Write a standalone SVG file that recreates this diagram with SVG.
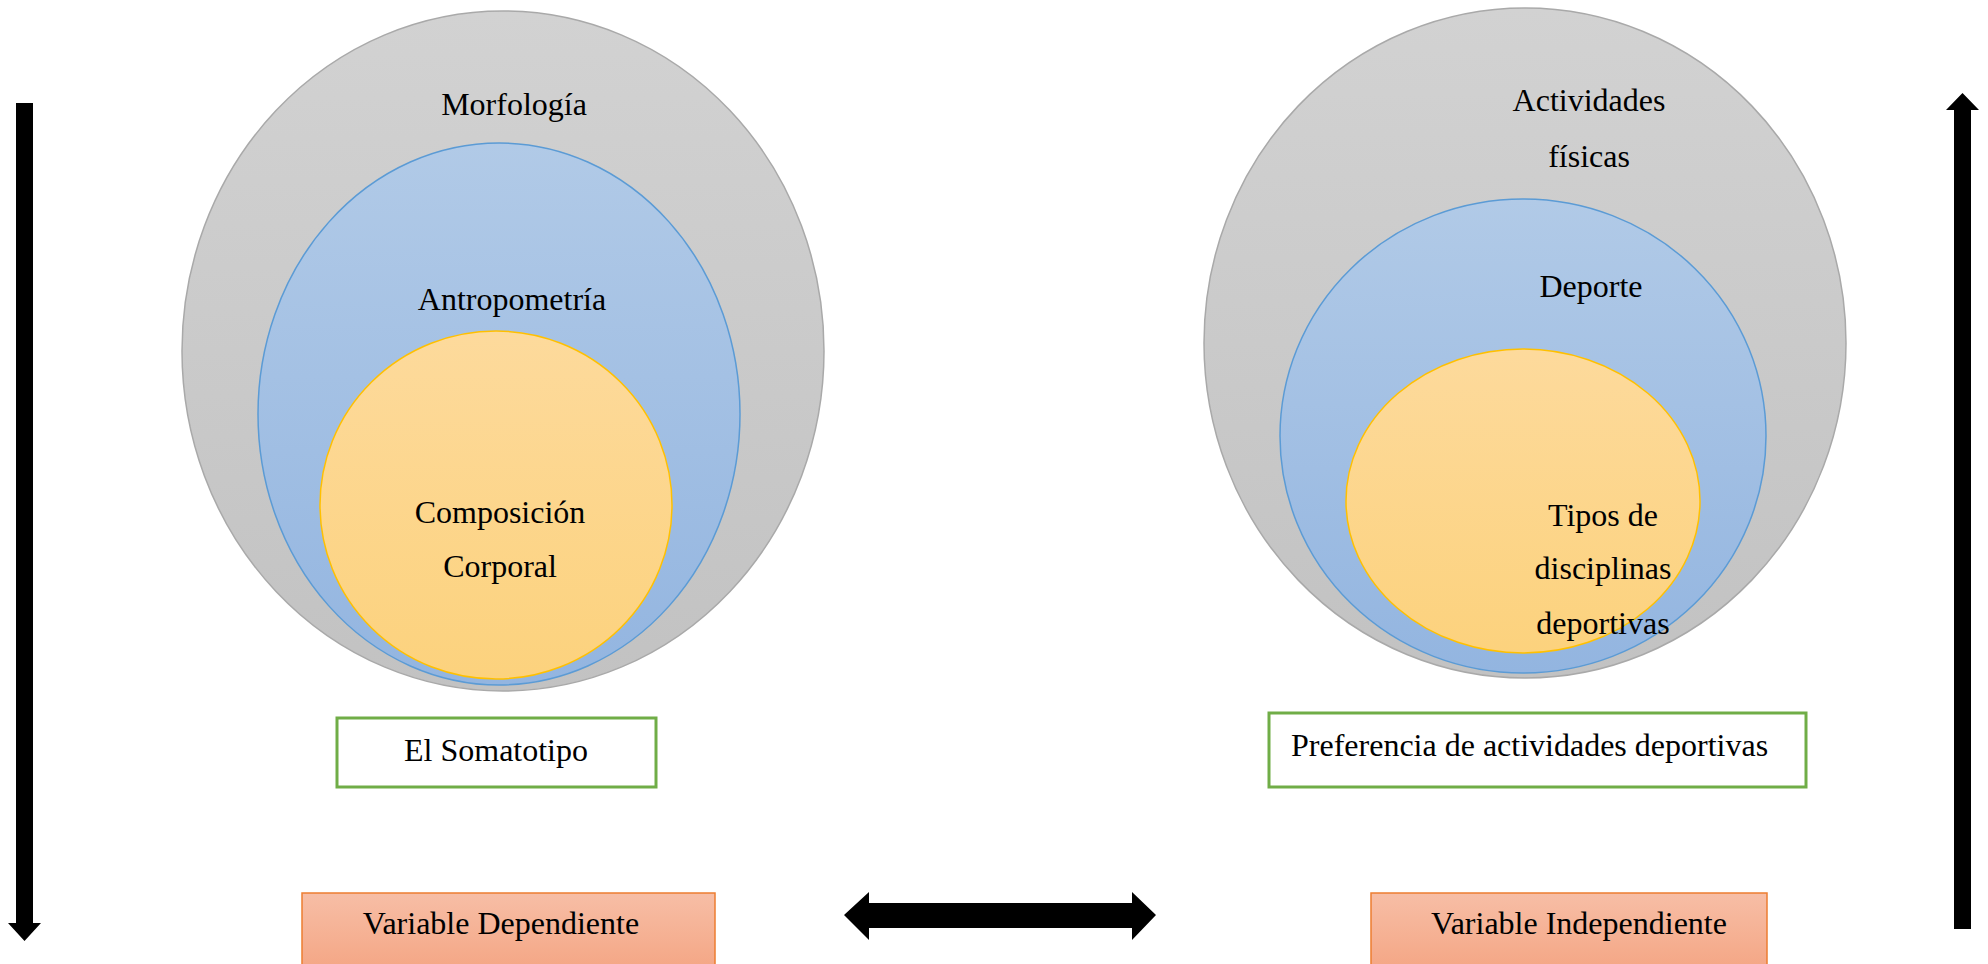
<svg xmlns="http://www.w3.org/2000/svg" width="1988" height="964" viewBox="0 0 1988 964">
<defs>
<linearGradient id="gGray" x1="0" y1="0" x2="0" y2="1"><stop offset="0" stop-color="#d2d2d2"/><stop offset="1" stop-color="#c2c2c2"/></linearGradient>
<linearGradient id="gBlue" x1="0" y1="0" x2="0" y2="1"><stop offset="0" stop-color="#b1cae7"/><stop offset="1" stop-color="#93b5e0"/></linearGradient>
<linearGradient id="gOrange" x1="0" y1="0" x2="0" y2="1"><stop offset="0" stop-color="#fdda9c"/><stop offset="1" stop-color="#fcd27d"/></linearGradient>
<linearGradient id="gSalmon" x1="0" y1="0" x2="0" y2="1"><stop offset="0" stop-color="#f7bea6"/><stop offset="1" stop-color="#f4a583"/></linearGradient>
</defs>
<style>
.gray{fill:url(#gGray);stroke:#a9a9a9;stroke-width:1.5}
.blue{fill:url(#gBlue);stroke:#5b9bd5;stroke-width:1.5}
.orange{fill:url(#gOrange);stroke:#ffc000;stroke-width:1.5}
.green{fill:#ffffff;stroke:#70ad47;stroke-width:3}
.salmon{fill:url(#gSalmon);stroke:#ed7d31;stroke-width:1.5}
text{font-family:"Liberation Serif","Times New Roman",serif;font-size:32px;fill:#000}
.arrow{fill:#000}
</style>
<rect width="1988" height="964" fill="#ffffff"/>
<g id="left-set">
<ellipse class="gray" cx="503" cy="351" rx="321" ry="340"/>
<ellipse class="blue" cx="499" cy="414" rx="241" ry="271"/>
<ellipse class="orange" cx="496" cy="505" rx="176" ry="174"/>
<text x="514" y="115" text-anchor="middle">Morfología</text>
<text x="512" y="310" text-anchor="middle">Antropometría</text>
<text x="500" y="523" text-anchor="middle">Composición</text>
<text x="500" y="577" text-anchor="middle">Corporal</text>
</g>
<g id="right-set">
<ellipse class="gray" cx="1525" cy="343" rx="321" ry="335"/>
<ellipse class="blue" cx="1523" cy="436" rx="243" ry="237"/>
<ellipse class="orange" cx="1523" cy="501" rx="177" ry="152"/>
<text x="1589" y="111" text-anchor="middle">Actividades</text>
<text x="1589" y="167" text-anchor="middle">físicas</text>
<text x="1591" y="297" text-anchor="middle">Deporte</text>
<text x="1603" y="526" text-anchor="middle">Tipos de</text>
<text x="1603" y="579" text-anchor="middle">disciplinas</text>
<text x="1603" y="634" text-anchor="middle">deportivas</text>
</g>
<g id="somatotipo">
<rect class="green" x="337" y="718" width="319" height="69"/>
<text x="496" y="761" text-anchor="middle">El Somatotipo</text>
</g>
<g id="preferencia">
<rect class="green" x="1269" y="713" width="537" height="74"/>
<text x="1291" y="756">Preferencia de actividades deportivas</text>
</g>
<g id="var-dependiente">
<rect class="salmon" x="302" y="893" width="413" height="80"/>
<text x="501" y="934" text-anchor="middle">Variable Dependiente</text>
</g>
<g id="var-independiente">
<rect class="salmon" x="1371" y="893" width="396" height="80"/>
<text x="1579" y="934" text-anchor="middle">Variable Independiente</text>
</g>
<g id="connectors">
<path class="arrow" d="M16,103 L33,103 L33,923 L41,923 L24.5,941 L8,923 L16,923 Z"/>
<path class="arrow" d="M1962.5,93 L1979,110 L1971,110 L1971,929 L1954,929 L1954,110 L1946,110 Z"/>
<path class="arrow" d="M844,915 L869,892 L869,903 L1132,903 L1132,892 L1156,915 L1132,940 L1132,928 L869,928 L869,940 Z"/>
</g>
</svg>
